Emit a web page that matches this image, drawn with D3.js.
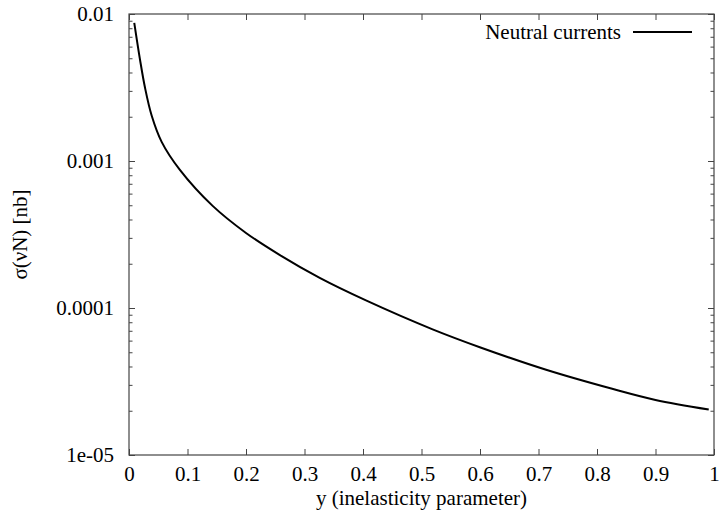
<!DOCTYPE html>
<html>
<head>
<meta charset="utf-8">
<script src="https://cdn.jsdelivr.net/npm/d3@7"></script>
<style>
  html, body { margin: 0; padding: 0; background: #fff; }
  svg { display: block; }
  svg text { font-family: "Liberation Serif", "DejaVu Serif", serif !important; fill: #000; }
</style>
</head>
<body>
<svg id="chart" width="719" height="518"></svg>
<script>
// Data
const yInelasticity = [0.009, 0.0188, 0.0273, 0.0387, 0.0558, 0.087, 0.143, 0.2, 0.258, 0.326, 0.406, 0.519, 0.602, 0.713, 0.826, 0.9, 0.991];
const sigmaNC = [8.71e-3, 4.90e-3, 3.16e-3, 2.04e-3, 1.35e-3, 8.7e-4, 4.95e-4, 3.24e-4, 2.29e-4, 1.603e-4, 1.122e-4, 7.16e-5, 5.37e-5, 3.80e-5, 2.82e-5, 2.37e-5, 2.04e-5];
const xTickValues = [0, 0.1, 0.2, 0.3, 0.4, 0.5, 0.6, 0.7, 0.8, 0.9, 1];
const xTickLabels = ["0", "0.1", "0.2", "0.3", "0.4", "0.5", "0.6", "0.7", "0.8", "0.9", "1"];
const yTickValues = [0.01, 0.001, 0.0001, 0.00001];
const yTickLabels = ["0.01", "0.001", "0.0001", "1e-05"];
const seriesName = "Neutral currents";
const xTitle = "y (inelasticity parameter)";
const yTitle = "σ(νN) [nb]";

const svg = d3.select("#chart");
const L = 129, R = 714, T = 14, B = 455;
const x = d3.scaleLinear().domain([0, 1]).range([L, R]);
const y = d3.scaleLog().domain([1e-5, 0.01]).range([B, T]);
const fontSize = 21;
const fontFamily = "'Liberation Serif', 'DejaVu Serif', serif";
const axisColor = "#444";

// minor ticks on log axis
const minor = [];
for (let e = -5; e < -2; e++) {
  for (let m = 2; m <= 9; m++) minor.push(m * Math.pow(10, e));
}

const g = svg.append("g");

// Bottom axis
const xAxis = d3.axisBottom(x).tickValues(xTickValues).tickSizeInner(-6).tickSizeOuter(0)
  .tickFormat((d, i) => xTickLabels[i]).tickPadding(11);
const gx = g.append("g").attr("transform", `translate(0,${B})`).call(xAxis);
// Top mirror
const gxt = g.append("g").attr("transform", `translate(0,${T})`)
  .call(d3.axisTop(x).tickValues(xTickValues).tickSizeInner(-6).tickSizeOuter(0).tickFormat(""));
// Left axis
const yAxis = d3.axisLeft(y).tickValues(yTickValues).tickSizeInner(-6).tickSizeOuter(0)
  .tickFormat((d, i) => yTickLabels[i]).tickPadding(15);
const gy = g.append("g").attr("transform", `translate(${L},0)`).call(yAxis);
const gym = g.append("g").attr("transform", `translate(${L},0)`)
  .call(d3.axisLeft(y).tickValues(minor).tickSizeInner(-3.5).tickSizeOuter(0).tickFormat(""));
// Right mirror
const gyr = g.append("g").attr("transform", `translate(${R},0)`)
  .call(d3.axisRight(y).tickValues(yTickValues).tickSizeInner(-6).tickSizeOuter(0).tickFormat(""));
const gyrm = g.append("g").attr("transform", `translate(${R},0)`)
  .call(d3.axisRight(y).tickValues(minor).tickSizeInner(-3.5).tickSizeOuter(0).tickFormat(""));

[gx, gxt, gy, gym, gyr, gyrm].forEach(a => {
  a.attr("font-family", fontFamily).attr("font-size", fontSize);
  a.select(".domain").remove();
  a.selectAll(".tick line").attr("stroke", axisColor).attr("stroke-width", 1);
  a.selectAll(".tick text").style("font-family", fontFamily).attr("font-size", fontSize).attr("fill", "#000");
});

// Border
g.append("rect").attr("x", L).attr("y", T).attr("width", R - L).attr("height", B - T)
  .attr("fill", "none").attr("stroke", axisColor).attr("stroke-width", 1.2);

// Curve
const data = yInelasticity.map((v, i) => [v, sigmaNC[i]]);
const line = d3.line().x(d => x(d[0])).y(d => y(d[1])).curve(d3.curveCatmullRom.alpha(0.5));
g.append("path").datum(data).attr("d", line).attr("fill", "none")
  .attr("stroke", "#000").attr("stroke-width", 2);

// Legend
const legY = 32;
g.append("text").attr("x", 621).attr("y", legY).attr("dy", "0.33em").attr("text-anchor", "end")
  .style("font-family", fontFamily).attr("font-size", fontSize).text(seriesName);
g.append("line").attr("x1", 633).attr("x2", 692).attr("y1", legY).attr("y2", legY)
  .attr("stroke", "#000").attr("stroke-width", 2);

// Axis titles
g.append("text").attr("x", (L + R) / 2).attr("y", 505).attr("text-anchor", "middle")
  .style("font-family", fontFamily).attr("font-size", fontSize).text(xTitle);
g.append("text").attr("transform", `translate(27,${(T + B) / 2}) rotate(-90)`)
  .attr("text-anchor", "middle").style("font-family", fontFamily).attr("font-size", fontSize).text(yTitle);
</script>
</body>
</html>
